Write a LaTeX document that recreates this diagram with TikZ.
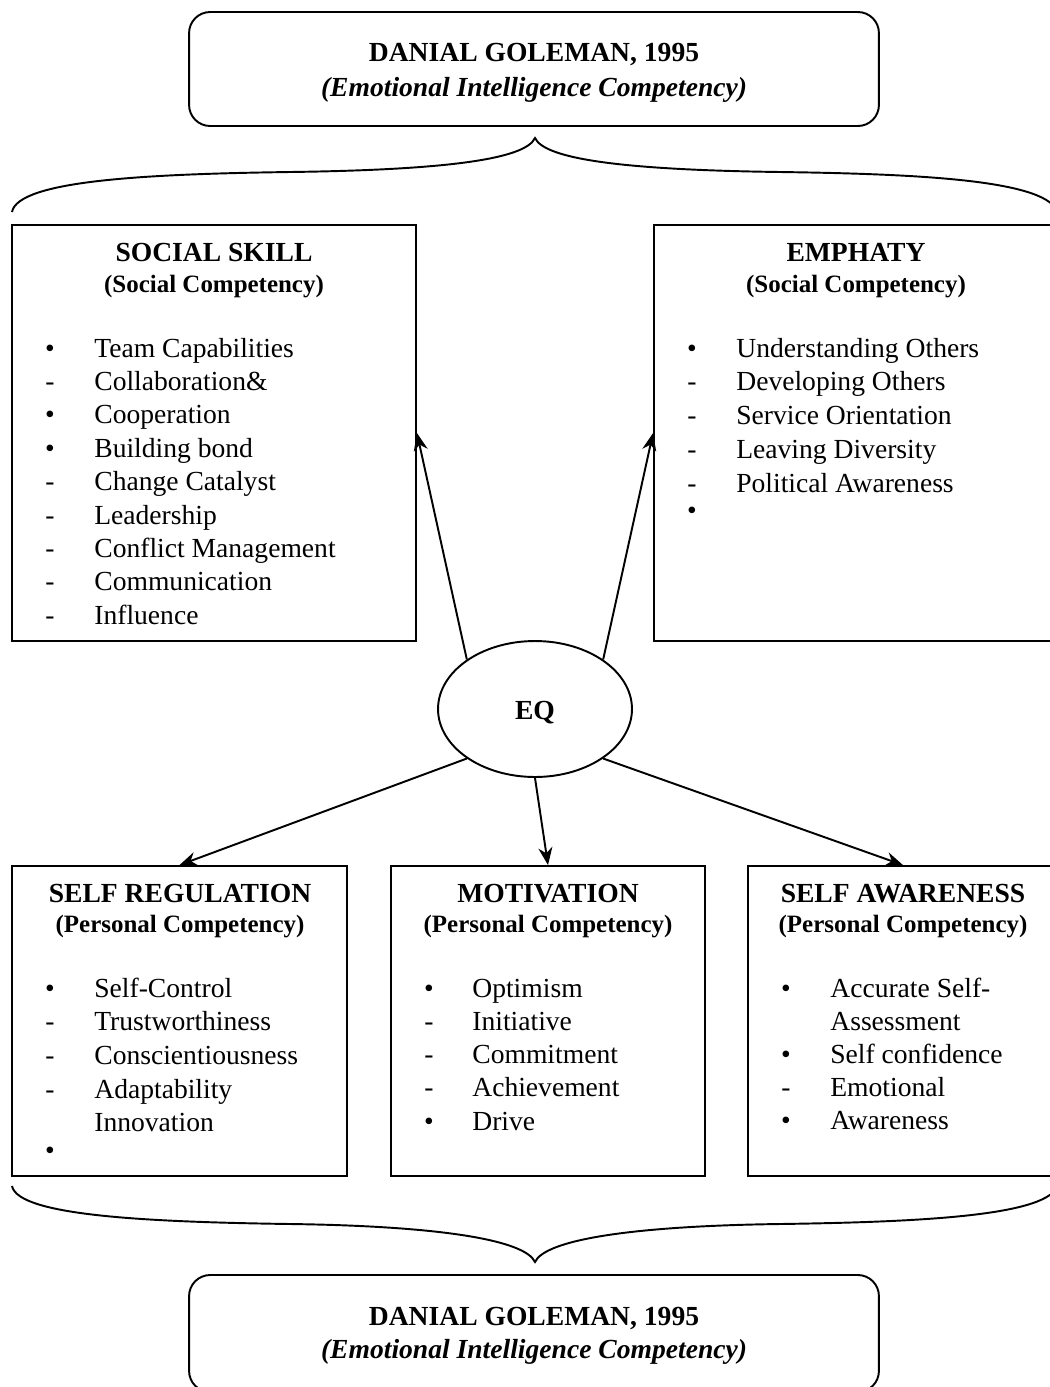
\documentclass[tikz,border=0pt]{standalone}
\usepackage{fontspec}
\setmainfont{Liberation Serif}
\usetikzlibrary{arrows.meta,shapes.geometric}

\begin{document}
\begin{tikzpicture}[x=0.02cm, y=-0.02cm,
font=\fontsize{15.7pt}{19pt}\selectfont,
box/.style = {% competency boxes
    draw=black, line width=1.1pt, inner sep=0pt,
            },
src/.style = {% Goleman boxes
    draw=black, line width=1.1pt, rounded corners=12pt,
    minimum width=13.8cm, inner sep=0pt,
            },
hd/.style = {% box headings
    font=\fontsize{15.7pt}{19pt}\selectfont\bfseries,
    inner sep=0pt, text height=11pt, text depth=3pt,
            },
sub/.style = {% second heading line
    font=\fontsize{14.2pt}{18pt}\selectfont\bfseries,
    inner sep=0pt, text height=10pt, text depth=3pt,
            },
it/.style = {% list entries
    anchor=west, inner sep=0pt, text height=11pt, text depth=3pt,
            },
mk/.style = {% list markers
    inner sep=0pt, text height=11pt, text depth=3pt,
            },
arr/.style = {% arrows from EQ
    line width=1.1pt, -{Stealth[length=10pt,width=8pt]},
            },
                        ]
  \useasboundingbox (0,0) rectangle (1049,1387);

% source boxes
  \node[src, minimum height=2.28cm] (top) at (534,69) {};
  \node[hd] (top-t) at (534,54) {DANIAL GOLEMAN, 1995};
  \node[hd] (top-s) at (534,89) {\itshape(Emotional Intelligence Competency)};
  \node[src, minimum height=2.34cm] (bot) at (534,1333.5) {};
  \node[hd] (bot-t) at (534,1318) {DANIAL GOLEMAN, 1995};
  \node[hd] (bot-s) at (534,1351) {\itshape(Emotional Intelligence Competency)};

% braces
  \draw[line width=1.1pt] (12,212) .. controls (18,180) and (150,174) .. (290,172)
      .. controls (440,170) and (525,160) .. (535,138)
      .. controls (545,160) and (630,170) .. (780,172)
      .. controls (920,174) and (1052,180) .. (1058,214);
  \draw[line width=1.1pt] (12,1186) .. controls (18,1216) and (150,1222) .. (290,1224)
      .. controls (440,1226) and (525,1240) .. (535,1262)
      .. controls (545,1240) and (630,1226) .. (780,1224)
      .. controls (920,1222) and (1052,1216) .. (1058,1184);

% competency boxes
  \node[box, minimum width=8.08cm, minimum height=8.32cm] (ss) at (214,433) {};
  \node[box, minimum width=8.08cm, minimum height=8.32cm] (em) at (856,433) {};
  \node[box, minimum width=6.7cm, minimum height=6.2cm] (sr) at (179.5,1021) {};
  \node[box, minimum width=6.28cm, minimum height=6.2cm] (mo) at (548,1021) {};
  \node[box, minimum width=6.2cm, minimum height=6.2cm] (sa) at (903,1021) {};

  \node[hd] (ss-t) at (214,254) {SOCIAL SKILL};
  \node[sub] (ss-s) at (214,286) {(Social Competency)};
  \node[hd] (em-t) at (856,254) {EMPHATY};
  \node[sub] (em-s) at (856,286) {(Social Competency)};
  \node[hd] (sr-t) at (180,895) {SELF REGULATION};
  \node[sub] (sr-s) at (180,926) {(Personal Competency)};
  \node[hd] (mo-t) at (548,895) {MOTIVATION};
  \node[sub] (mo-s) at (548,926) {(Personal Competency)};
  \node[hd] (sa-t) at (903,895) {SELF AWARENESS};
  \node[sub] (sa-s) at (903,926) {(Personal Competency)};

% lists
  \foreach \i/\m/\t in {0/\textbullet/Team Capabilities, 1/-/Collaboration\&,
      2/\textbullet/Cooperation, 3/\textbullet/Building bond, 4/-/Change Catalyst,
      5/-/Leadership, 6/-/Conflict Management, 7/-/Communication, 8/-/Influence}{
    \node[mk] (ss-m\i) at (50,350+33.4*\i) {\m};
    \node[it] (ss-i\i) at (94,350+33.4*\i) {\t};
  }
  \foreach \i/\m/\t in {0/\textbullet/Understanding Others, 1/-/Developing Others,
      2/-/Service Orientation, 3/-/Leaving Diversity, 4/-/Political Awareness}{
    \node[mk] (em-m\i) at (692,350+33.8*\i) {\m};
    \node[it] (em-i\i) at (736,350+33.8*\i) {\t};
  }
  \node[mk] (em-m5) at (692,512) {\textbullet};

  \foreach \i/\m/\t in {0/\textbullet/Self-Control, 1/-/Trustworthiness,
      2/-/Conscientiousness, 3/-/Adaptability, 4/{}/Innovation}{
    \node[mk] (sr-m\i) at (50,990+33.7*\i) {\m};
    \node[it] (sr-i\i) at (94,990+33.7*\i) {\t};
  }
  \node[mk] (sr-m5) at (50,1152) {\textbullet};

  \foreach \i/\m/\t in {0/\textbullet/Optimism, 1/-/Initiative, 2/-/Commitment,
      3/-/Achievement, 4/\textbullet/Drive}{
    \node[mk] (mo-m\i) at (429,990+33.3*\i) {\m};
    \node[it] (mo-i\i) at (472,990+33.3*\i) {\t};
  }

  \foreach \i/\m/\t in {0/\textbullet/Accurate Self-, 1/{}/Assessment,
      2/\textbullet/Self confidence, 3/-/Emotional, 4/\textbullet/Awareness}{
    \node[mk] (sa-m\i) at (786,990+33*\i) {\m};
    \node[it] (sa-i\i) at (830,990+33*\i) {\t};
  }

% EQ and arrows
  \node[draw, ellipse, line width=1.1pt, minimum width=3.88cm, minimum height=2.72cm,
      font=\fontsize{15.7pt}{19pt}\selectfont\bfseries] (eq) at (535,709) {};
  \node[hd] (eq-t) at (535,712) {EQ};

  \draw[arr] (eq.144) -- (ss.east);
  \draw[arr] (eq.36) -- (em.west);
  \draw[arr] (eq.216) -- (sr.north);
  \draw[arr] (eq.south) -- (mo.north);
  \draw[arr] (eq.324) -- (sa.north);

\end{tikzpicture}
\end{document}
